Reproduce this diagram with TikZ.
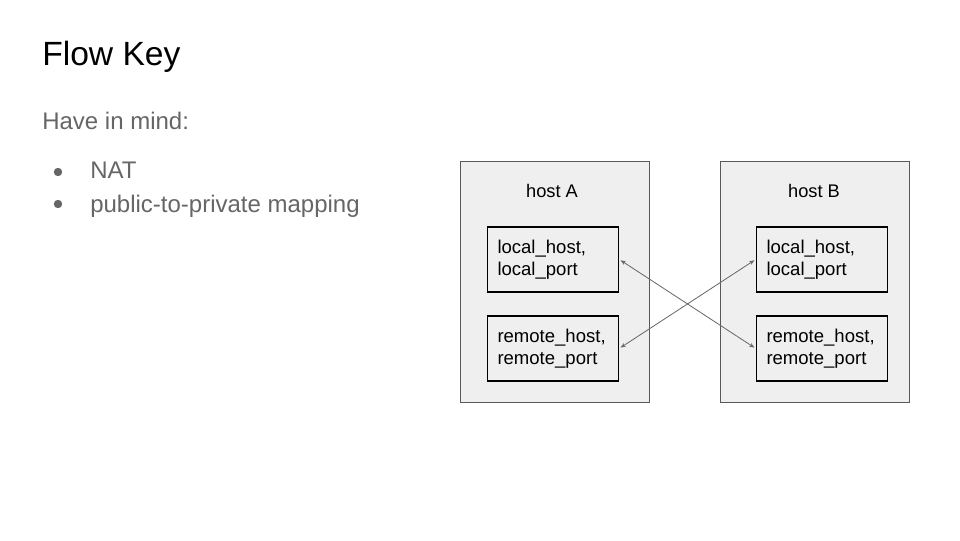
\documentclass[tikz,border=0pt]{standalone}
\usepackage{fontspec}
\setmainfont{Liberation Sans}
\usetikzlibrary{arrows.meta,positioning}
\definecolor{slidegray}{HTML}{666666}
\definecolor{hostfill}{HTML}{EFEFEF}
\definecolor{hostline}{HTML}{595959}
\tikzset{
  hostbox/.style={draw=hostline, fill=hostfill, line width=0.75pt,
    minimum width=141.75pt, minimum height=180.75pt, inner sep=0pt},
  sockbox/.style={draw=black, fill=hostfill, line width=1.4pt,
    minimum width=98.25pt, minimum height=48.75pt, inner xsep=7.5pt,
    text width=83.25pt, align=left, font=\fontsize{13.9}{16.5}\selectfont},
  hostlabel/.style={anchor=base, inner sep=0pt, font=\fontsize{13.7}{16}\selectfont},
  flow/.style={{Stealth[length=4pt,width=3pt]}-{Stealth[length=4pt,width=3pt]},
    draw=slidegray, line width=0.6pt, shorten <=1pt, shorten >=1pt}
}
\begin{document}
\begin{tikzpicture}[x=0.75pt, y=-0.75pt]
    \useasboundingbox[fill=white] (0,0) rectangle (960,540);
    % heading and notes
    \node[anchor=base west, inner sep=0pt, font=\fontsize{25.2}{29}\selectfont] (title) at (42,65) {Flow Key};
    \node[anchor=base west, inner sep=0pt, text=slidegray, font=\fontsize{18}{21}\selectfont] (mind) at (42,129) {Have in mind:};
    \node[anchor=base west, inner sep=0pt, text=slidegray, font=\fontsize{18}{21}\selectfont] (nat) at (90,178) {NAT};
    \node[anchor=base west, inner sep=0pt, text=slidegray, font=\fontsize{18}{21}\selectfont] (mapping) at (90,212) {public-to-private mapping};
    \fill[slidegray] (58,172) circle (4.2);
    \fill[slidegray] (58,204) circle (4.2);
    % the two hosts
    \node[hostbox] (hosta) at (554.5,281.5) {};
    \node[hostbox] (hostb) at (814.5,281.5) {};
    \node[hostlabel] (labela) at (552,197) {host A};
    \node[hostlabel] (labelb) at (814,197) {host B};
    \node[sockbox] (alocal) at (553,259.5) {local\_host,\\local\_port};
    \node[sockbox, below=16.5pt of alocal] (aremote) {remote\_host,\\remote\_port};
    \node[sockbox] (blocal) at (822,259.5) {local\_host,\\local\_port};
    \node[sockbox, below=16.5pt of blocal] (bremote) {remote\_host,\\remote\_port};
    % crossed mapping
    \draw[flow] (alocal.east) -- (bremote.west);
    \draw[flow] (aremote.east) -- (blocal.west);
\end{tikzpicture}
\end{document}
